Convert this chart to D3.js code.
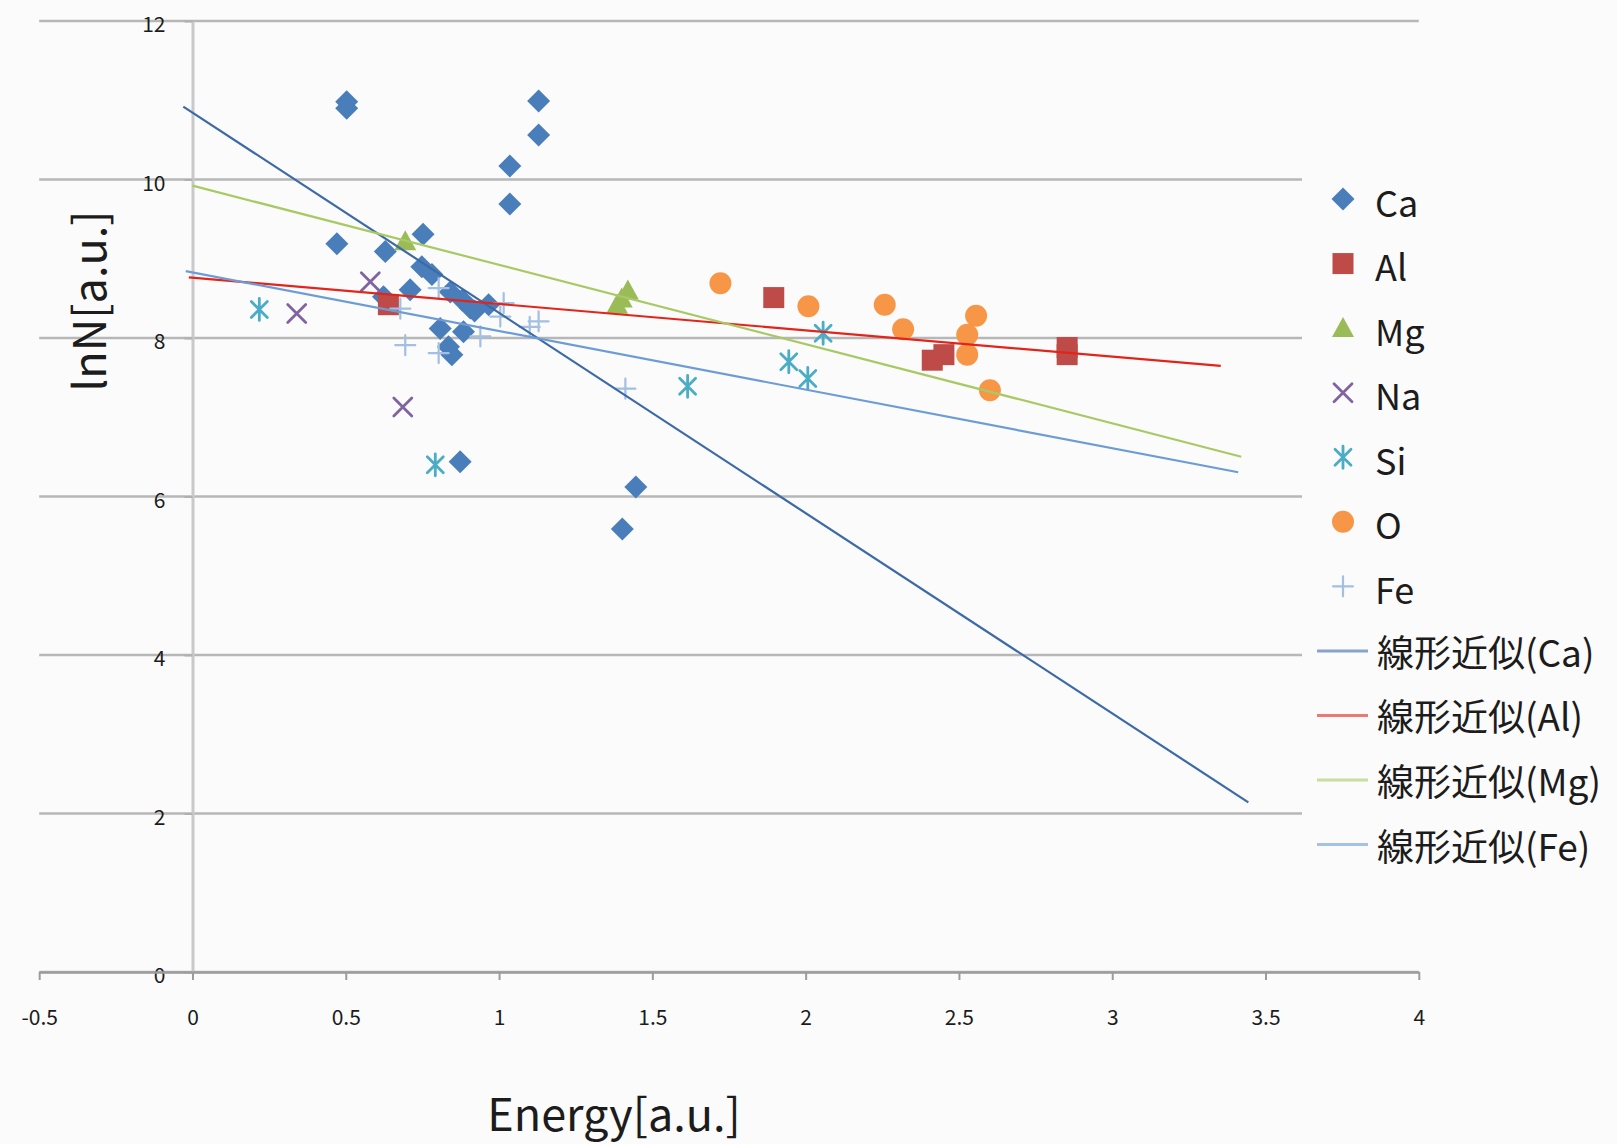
<!DOCTYPE html>
<html>
<head>
<meta charset="utf-8">
<script src="https://cdn.jsdelivr.net/npm/d3@7"></script>
<style>
  body{ margin: 0; background: #fbfbfb; }
  svg text{ font-family: "Noto Sans CJK JP", "Noto Sans", sans-serif; fill: #1c1c1c; }
</style>
</head>
<body>
<div id="chart"><div class="plot"></div></div>
<script>

// Points: [ Energy, lnN ]
const ca_points = [
  [0.503, 10.98], [0.503, 10.90], [1.129, 10.99], [1.129, 10.56], [1.035, 10.17], [1.035, 9.69],
  [0.471, 9.19], [0.629, 9.09], [0.752, 9.31], [0.748, 8.90], [0.781, 8.80], [0.710, 8.61],
  [0.623, 8.52], [0.841, 8.58], [0.880, 8.48], [0.906, 8.38], [0.966, 8.42], [0.920, 8.34],
  [0.808, 8.12], [0.884, 8.08], [0.835, 7.89], [0.846, 7.79], [0.873, 6.44], [1.446, 6.12],
  [1.402, 5.59]
];
const al_points = [ [0.639, 8.42], [1.896, 8.51], [2.413, 7.72], [2.451, 7.79], [2.853, 7.88], [2.853, 7.79] ];
const mg_points = [ [0.694, 9.22], [1.385, 8.42], [1.400, 8.50], [1.420, 8.60] ];
const na_points = [ [0.340, 8.31], [0.580, 8.71], [0.686, 7.13] ];
const si_points = [ [0.218, 8.36], [0.792, 6.40], [1.615, 7.39], [1.945, 7.70], [2.007, 7.49], [2.057, 8.06] ];
const o_points = [
  [1.722, 8.69], [2.009, 8.40], [2.258, 8.42], [2.318, 8.11], [2.556, 8.28], [2.527, 8.04],
  [2.527, 7.79], [2.601, 7.34]
];
const fe_points = [
  [0.803, 8.63], [0.678, 8.37], [1.015, 8.44], [1.004, 8.27], [1.129, 8.21], [1.100, 8.14],
  [0.939, 8.02], [0.694, 7.91], [0.803, 7.81], [1.412, 7.36]
];

const series_names = [ 'Ca', 'Al', 'Mg', 'Na', 'Si', 'O', 'Fe' ];
const series_points = [ ca_points, al_points, mg_points, na_points, si_points, o_points, fe_points ];
const series_colors = [ '#4a7ebb', '#be4b48', '#9bbb59', '#8064a2', '#4bacc6', '#f79646', '#a3bfe2' ];
const series_shapes = [ 'diamond', 'square', 'triangle', 'x', 'asterisk', 'circle', 'plus' ];

// Linear trend lines as drawn: lnN = slope * E + intercept, from x_start to x_end.
const trend_names = [ '線形近似(Ca)', '線形近似(Al)', '線形近似(Mg)', '線形近似(Fe)' ];
const trend_slopes = [ -2.527, -0.332, -1.0, -0.739 ];
const trend_intercepts = [ 10.844, 8.761, 9.923, 8.827 ];
const trend_x_start = [ -0.03, -0.012, 0, -0.022 ];
const trend_x_end = [ 3.444, 3.354, 3.421, 3.411 ];
const trend_colors = [ '#3c6aa6', '#e3241b', '#a9c964', '#6c9cd6' ];

const x_ticks = [ -0.5, 0, 0.5, 1, 1.5, 2, 2.5, 3, 3.5, 4 ];
const y_ticks = [ 0, 2, 4, 6, 8, 10, 12 ];


class ScatterChart{

  constructor( elem_id ){
    this.elem_id = elem_id;
    this.settings = {
      figure_width: 1617,
      figure_height: 1144,
      plot_left: 39.2,
      plot_right: 1418.8,
      plot_top: 21,
      plot_bottom: 972,
      background: '#fbfbfb',
      grid_color: '#b7b7b7'
    };

    this.render_chart();
    this.render_legend();
  }


  // Path for one marker, centred on 0,0.
  marker_path( shape ){
    switch( shape ){
      case 'diamond': return 'M0,-11.5L11.5,0L0,11.5L-11.5,0Z';
      case 'square': return 'M-10.5,-10.5H10.5V10.5H-10.5Z';
      case 'triangle': return 'M0,-11L11,9L-11,9Z';
      case 'circle': return 'M11,0A11,11 0 1,1 -11,0A11,11 0 1,1 11,0Z';
      case 'x': return 'M-9,-9L9,9M-9,9L9,-9';
      case 'asterisk': return 'M-8,-8L8,8M-8,8L8,-8M0,-11V11';
      case 'plus': return 'M-10,0H10M0,-10V10';
    }
  }

  is_filled( shape ){
    return [ 'diamond', 'square', 'triangle', 'circle' ].indexOf( shape ) >= 0;
  }

  style_marker( sel, i ){
    var filled = this.is_filled( series_shapes[i] );
    sel.attr( 'd', this.marker_path( series_shapes[i] ) )
      .attr( 'fill', filled ? series_colors[i] : 'none' )
      .attr( 'stroke', filled ? 'none' : series_colors[i] )
      .attr( 'stroke-width', series_shapes[i] == 'plus' ? 2.2 : 2.8 )
      .attr( 'stroke-linecap', 'round' );
  }


  render_chart(){
    var s = this.settings;

    this.svg = d3.select( 'div#' + this.elem_id + ' .plot' )
      .append( 'svg' )
        .attr( 'width', s.figure_width )
        .attr( 'height', s.figure_height );

    this.svg.append( 'rect' )
      .attr( 'width', s.figure_width )
      .attr( 'height', s.figure_height )
      .attr( 'fill', s.background );

    this.x_scale = d3.scaleLinear()
      .domain( [ -0.5, 4 ] )
      .range( [ s.plot_left, s.plot_right ] );
    this.y_scale = d3.scaleLinear()
      .domain( [ 0, 12 ] )
      .range( [ s.plot_bottom, s.plot_top ] );

    var x = this.x_scale, y = this.y_scale;

    // Horizontal gridlines across the full x range.
    this.svg.append( 'g' )
      .selectAll( 'line' )
      .data( y_ticks )
      .enter()
      .append( 'line' )
        .attr( 'x1', x( -0.5 ) )
        .attr( 'x2', x( 4 ) )
        .attr( 'y1', d => y( d ) )
        .attr( 'y2', d => y( d ) )
        .attr( 'stroke', s.grid_color )
        .attr( 'stroke-width', 2.5 );

    // Y axis sits at x = 0.
    var y_axis = this.svg.append( 'g' )
      .attr( 'transform', 'translate(' + x( 0 ) + ',0)' )
      .call( d3.axisLeft( y )
        .tickValues( y_ticks )
        .tickSize( 8 )
        .tickSizeOuter( 0 )
        .tickPadding( 19 )
        .tickFormat( d => String( d ) ) );
    y_axis.select( '.domain' ).attr( 'stroke', '#c9c9c9' ).attr( 'stroke-width', 3 );
    y_axis.selectAll( '.tick line' ).attr( 'stroke', '#b0b0b0' ).attr( 'stroke-width', 2 );
    y_axis.selectAll( '.tick text' )
      .attr( 'dy', '0.5em' )
      .style( 'font-size', '21px' );

    // X axis along lnN = 0.
    var x_axis = this.svg.append( 'g' )
      .attr( 'transform', 'translate(0,' + y( 0 ) + ')' )
      .call( d3.axisBottom( x )
        .tickValues( x_ticks )
        .tickSize( 8 )
        .tickSizeOuter( 0 )
        .tickPadding( 30 )
        .tickFormat( d => String( d ) ) );
    x_axis.select( '.domain' ).attr( 'stroke', '#9c9c9c' ).attr( 'stroke-width', 2.5 );
    x_axis.selectAll( '.tick line' ).attr( 'stroke', '#9c9c9c' ).attr( 'stroke-width', 2 );
    x_axis.selectAll( '.tick text' ).style( 'font-size', '21px' );
    this.svg.selectAll( '.tick text' ).attr( 'fill', '#222' );

    // Scatter markers, one group per element.
    var _this = this;
    series_points.forEach( function( pts, i ){
      _this.svg.append( 'g' )
        .selectAll( 'path' )
        .data( pts )
        .enter()
        .append( 'path' )
          .attr( 'transform', d => 'translate(' + x( d[0] ) + ',' + y( d[1] ) + ')' )
          .call( sel => _this.style_marker( sel, i ) );
    });

    // Trend lines go on top of the markers.
    this.svg.append( 'g' )
      .selectAll( 'line' )
      .data( trend_names )
      .enter()
      .append( 'line' )
        .attr( 'x1', ( d, i ) => x( trend_x_start[i] ) )
        .attr( 'y1', ( d, i ) => y( trend_slopes[i] * trend_x_start[i] + trend_intercepts[i] ) )
        .attr( 'x2', ( d, i ) => x( trend_x_end[i] ) )
        .attr( 'y2', ( d, i ) => y( trend_slopes[i] * trend_x_end[i] + trend_intercepts[i] ) )
        .attr( 'stroke', ( d, i ) => trend_colors[i] )
        .attr( 'stroke-width', 2.2 );

    // Axis titles.
    this.svg.append( 'text' )
      .attr( 'x', 614 )
      .attr( 'y', 1131 )
      .attr( 'text-anchor', 'middle' )
      .style( 'font-size', '45px' )
      .text( 'Energy[a.u.]' );

    this.svg.append( 'g' )
      .attr( 'transform', 'translate(106,301)' )
      .append( 'text' )
        .attr( 'text-anchor', 'middle' )
        .attr( 'transform', 'rotate(-90)' )
        .style( 'font-size', '45px' )
        .text( 'lnN[a.u.]' );
  } // End function render_chart


  render_legend(){
    var s = this.settings;
    var row_y = i => 199 + i * 64.56;

    var legend = this.svg.append( 'g' );
    legend.append( 'rect' )
      .attr( 'x', 1302 )
      .attr( 'y', 160 )
      .attr( 'width', s.figure_width - 1302 )
      .attr( 'height', 720 )
      .attr( 'fill', s.background );

    var _this = this;
    series_names.forEach( function( name, i ){
      legend.append( 'path' )
        .attr( 'transform', 'translate(1343,' + row_y( i ) + ')' )
        .call( sel => _this.style_marker( sel, i ) );
      legend.append( 'text' )
        .attr( 'x', 1375 )
        .attr( 'y', row_y( i ) + 5 )
        .attr( 'dy', '0.35em' )
        .style( 'font-size', '36px' )
        .text( name );
    });

    trend_names.forEach( function( name, j ){
      var yy = row_y( series_names.length + j );
      legend.append( 'line' )
        .attr( 'x1', 1317 )
        .attr( 'x2', 1368 )
        .attr( 'y1', yy )
        .attr( 'y2', yy )
        .attr( 'stroke', trend_colors[j] )
        .attr( 'stroke-opacity', 0.6 )
        .attr( 'stroke-width', 3 );
      legend.append( 'text' )
        .attr( 'x', 1377 )
        .attr( 'y', yy + 3 )
        .attr( 'dy', '0.35em' )
        .style( 'font-size', '37px' )
        .text( name );
    });
  }

} // End of class ScatterChart.

new ScatterChart( 'chart' );
</script>
</body>
</html>
